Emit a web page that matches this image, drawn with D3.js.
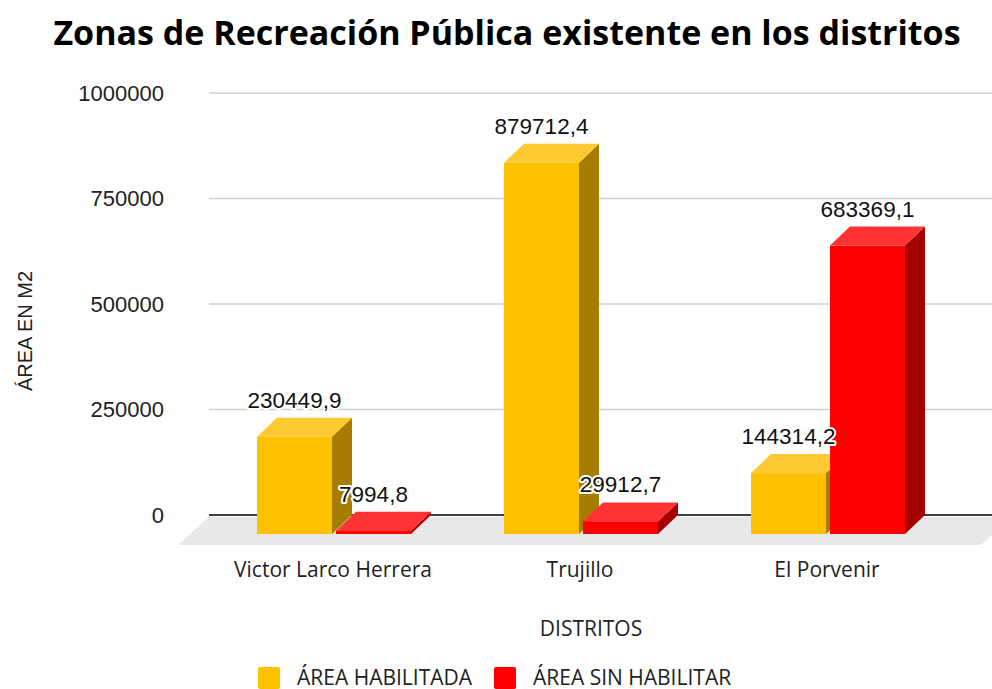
<!DOCTYPE html>
<html>
<head>
<meta charset="utf-8">
<script src="https://cdn.jsdelivr.net/npm/d3@7"></script>
<style>
  html, body { margin: 0; padding: 0; background: #fff; }
  svg { display: block; }
</style>
</head>
<body>
<svg id="chart" width="992" height="689"></svg>
<script>
// Data
const districts = ["Victor Larco Herrera", "Trujillo", "El Porvenir"];
const habilitada = [230449.9, 879712.4, 144314.2];
const sinHabilitar = [7994.8, 29912.7, 683369.1];
const seriesNames = ["ÁREA HABILITADA", "ÁREA SIN HABILITAR"];
const yTicks = [0, 250000, 500000, 750000, 1000000];

// Face colours per series: front, top, side
const palette = [
  { front: "#FFC000", top: "#FFC933", side: "#A67D00" },
  { front: "#FF0000", top: "#FF3333", side: "#A50000" }
];

const svg = d3.select("#chart");
const W = 992, H = 689;

// Back wall (gridline plane) and 3D projection offsets
const wallLeft = 209;
const depthX = 20, depthY = 19;       // bar depth
const floorDX = 31, floorDY = 30;     // floor depth

const y = d3.scaleLinear().domain([0, 1000000]).range([515, 93]);

// Category bands on the front plane of the bars
const x0 = d3.scaleBand().domain(districts).range([164, 998])
  .paddingInner(0.3765).paddingOuter(0.3765);
const x1 = d3.scaleBand().domain(d3.range(2)).range([0, x0.bandwidth()])
  .paddingInner(4 / 79);

const fmt = d3.formatLocale({ decimal: ",", thousands: "", grouping: [3] }).format(".1f");

// Title
svg.append("text")
  .attr("x", 507).attr("y", 45)
  .attr("text-anchor", "middle")
  .style("font-family", "'Open Sans', sans-serif")
  .style("font-weight", 700)
  .style("font-size", "34px")
  .attr("fill", "#000")
  .text("Zonas de Recreación Pública existente en los distritos");

// Floor
const y0 = y(0);
svg.append("path")
  .attr("d", `M${wallLeft},${y0 + 2} L${W + 20},${y0 + 2} L${W + 20 - floorDX},${y0 + floorDY} L${wallLeft - floorDX},${y0 + floorDY} Z`)
  .attr("fill", "#E8E8E8");

// Gridlines
svg.append("g").selectAll("line")
  .data(yTicks.filter(d => d > 0))
  .join("line")
  .attr("x1", wallLeft).attr("x2", W)
  .attr("y1", d => y(d)).attr("y2", d => y(d))
  .attr("stroke", "#D0D0D0").attr("stroke-width", 1.6);

// Zero line
svg.append("line")
  .attr("x1", wallLeft).attr("x2", W)
  .attr("y1", y0).attr("y2", y0)
  .attr("stroke", "#404040").attr("stroke-width", 2);

// Y tick labels
svg.append("g").selectAll("text")
  .data(yTicks)
  .join("text")
  .attr("x", 164).attr("y", d => y(d))
  .attr("dy", "0.36em")
  .attr("text-anchor", "end")
  .style("font-family", "'Liberation Sans', Arial, sans-serif")
  .style("font-size", "22px")
  .attr("fill", "#222")
  .text(d => d);

// Y axis title
svg.append("text")
  .attr("transform", "translate(32,331) rotate(-90)")
  .attr("text-anchor", "middle")
  .style("font-family", "'Liberation Sans', Arial, sans-serif")
  .style("font-size", "20px")
  .attr("fill", "#222")
  .text("ÁREA EN M2");

// Bars (left to right so later faces overlap earlier side faces)
const bars = [];
districts.forEach((d, i) => {
  [habilitada[i], sinHabilitar[i]].forEach((v, s) => {
    bars.push({ district: d, s, v });
  });
});

const gBars = svg.append("g");
bars.forEach(b => {
  const xl = x0(b.district) + x1(b.s);
  const xr = xl + x1.bandwidth();
  const yb = y0 + depthY;             // front bottom
  const yt = y(b.v) + depthY;         // front top
  const c = palette[b.s];
  const g = gBars.append("g");
  // side face
  g.append("path")
    .attr("d", `M${xr},${yt} L${xr + depthX},${yt - depthY} L${xr + depthX},${yb - depthY} L${xr},${yb} Z`)
    .attr("fill", c.side);
  // top face
  g.append("path")
    .attr("d", `M${xl},${yt} L${xl + depthX},${yt - depthY} L${xr + depthX},${yt - depthY} L${xr},${yt} Z`)
    .attr("fill", c.top);
  // front face
  g.append("rect")
    .attr("x", xl).attr("y", yt)
    .attr("width", xr - xl).attr("height", yb - yt)
    .attr("fill", c.front);
});

// Value labels
svg.append("g").selectAll("text")
  .data(bars)
  .join("text")
  .attr("x", b => x0(b.district) + x1(b.s) + x1.bandwidth() / 2)
  .attr("y", b => y(b.v) - 10)
  .attr("text-anchor", "middle")
  .style("font-family", "'Liberation Sans', Arial, sans-serif")
  .style("font-size", "22.5px")
  .attr("fill", "#111")
  .attr("stroke", "#fff").attr("stroke-width", 4)
  .attr("stroke-linejoin", "round")
  .style("paint-order", "stroke")
  .text(b => fmt(b.v));

// Category labels
svg.append("g").selectAll("text")
  .data(districts)
  .join("text")
  .attr("x", d => x0(d) + x0.bandwidth() / 2 - 1)
  .attr("y", 577)
  .attr("text-anchor", "middle")
  .style("font-family", "'Open Sans', sans-serif")
  .style("font-size", "21px")
  .attr("fill", "#222")
  .text(d => d);

// X axis title
svg.append("text")
  .attr("x", 591).attr("y", 636)
  .attr("text-anchor", "middle")
  .style("font-family", "'Open Sans', sans-serif")
  .style("font-size", "21px")
  .attr("fill", "#222")
  .text("DISTRITOS");

// Legend
const legendX = [258, 494];
const legend = svg.append("g").selectAll("g")
  .data(seriesNames)
  .join("g")
  .attr("transform", (d, i) => `translate(${legendX[i]},667)`);
legend.append("rect")
  .attr("width", 22).attr("height", 22).attr("rx", 2)
  .attr("fill", (d, i) => palette[i].front);
legend.append("text")
  .attr("x", 39).attr("y", 18)
  .style("font-family", "'Open Sans', sans-serif")
  .style("font-size", "21px")
  .attr("fill", "#222")
  .text(d => d);
</script>
</body>
</html>
